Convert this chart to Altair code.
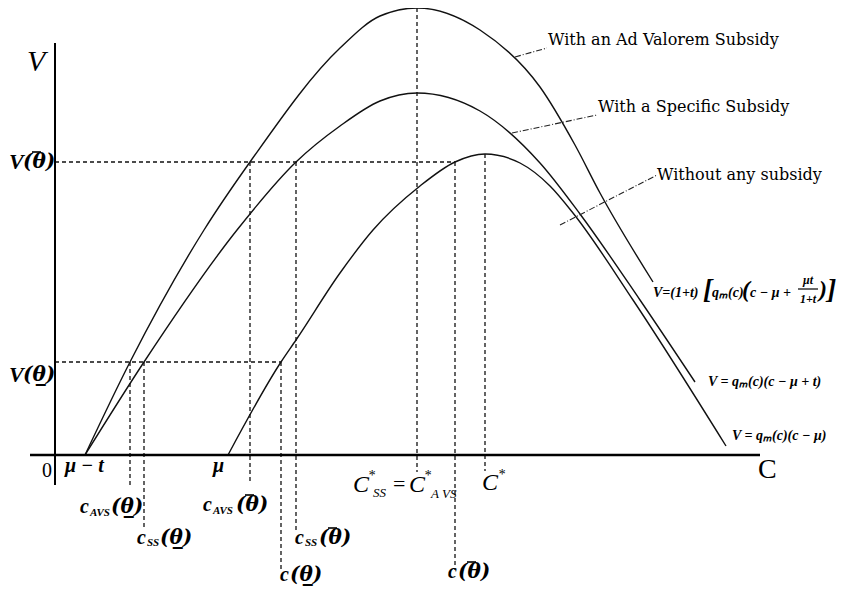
import altair as alt
import pandas as pd

# ---------------- curve data (c, V) ----------------
avs_c = [30, 75, 149, 195, 285, 325, 362, 425, 485, 520, 545, 598]
avs_v = [0, 93, 225, 293, 407, 439, 447, 425, 368, 310, 262, 173]

ss_c = [30, 89, 182, 241, 285, 325, 362, 425, 485, 525, 585, 640]
ss_v = [0, 93, 225, 293, 329, 354, 362, 344, 292, 241, 155, 73]

ns_c = [173, 226, 241, 285, 318, 365, 400, 430, 465, 495, 518, 578, 671]
ns_v = [0, 93, 115, 182, 225, 269, 293, 301, 292, 269, 242, 155, 9]

# key levels / points
V_hi, V_lo = 293, 93
c_avs_lo, c_ss_lo, c_lo = 75, 89, 226
c_avs_hi, c_ss_hi, c_hi = 195, 241, 400
c_star_sub, V_star_sub = 362, 447
c_star, V_star = 430, 301

# lower ends of the drop lines
drop_c = [c_avs_hi, c_ss_hi, c_hi, c_avs_lo, c_ss_lo, c_lo, c_star_sub, c_star]
drop_top = [V_hi, V_hi, V_hi, V_lo, V_lo, V_lo, V_star_sub, V_star]
drop_bot = [-27, -78, -115, -30, -72, -115, -17, -16]

XD = [-47, 783]
YD = [-133, 447]


def X(f="c"):
    return alt.X(f"{f}:Q", scale=alt.Scale(domain=XD, nice=False, zero=False), axis=None)


def Y(f="v"):
    return alt.Y(f"{f}:Q", scale=alt.Scale(domain=YD, nice=False, zero=False), axis=None)


curves = pd.concat([
    pd.DataFrame({"c": avs_c, "v": avs_v, "k": "avs"}),
    pd.DataFrame({"c": ss_c, "v": ss_v, "k": "ss"}),
    pd.DataFrame({"c": ns_c, "v": ns_v, "k": "ns"}),
])

curve_layer = alt.Chart(curves).mark_line(
    interpolate="monotone", color="#111", strokeWidth=1.4
).encode(x=X(), y=Y(), detail="k:N", order="c:Q")

# dashed guides
dash_rows = [
    {"c": 0, "v": V_hi, "c2": c_hi, "v2": V_hi},
    {"c": 0, "v": V_lo, "c2": c_lo, "v2": V_lo},
]
for c, t, b in zip(drop_c, drop_top, drop_bot):
    dash_rows.append({"c": c, "v": t, "c2": c, "v2": b})
dash_df = pd.DataFrame(dash_rows)
dash_layer = alt.Chart(dash_df).mark_rule(
    color="#111", strokeWidth=1.3, strokeDash=[4, 3]
).encode(x=X(), y=Y(), x2="c2:Q", y2="v2:Q")

# axes
axis_df = pd.DataFrame([
    {"c": -25, "v": 0, "c2": 705, "v2": 0, "w": 2.5},
    {"c": 0, "v": -30, "c2": 0, "v2": 412, "w": 2.0},
])
axis_layer = alt.Chart(axis_df).mark_rule(color="#000").encode(
    x=X(), y=Y(), x2="c2:Q", y2="v2:Q", strokeWidth=alt.StrokeWidth("w:Q", scale=None)
)

# annotation leader lines (dash-dot)
lead_df = pd.DataFrame([
    {"c": 460, "v": 398, "c2": 492, "v2": 407},
    {"c": 457, "v": 322, "c2": 542, "v2": 340},
    {"c": 505, "v": 230, "c2": 602, "v2": 280},
])
lead_layer = alt.Chart(lead_df).mark_rule(
    color="#222", strokeWidth=1.1, strokeDash=[6, 2, 1, 2]
).encode(x=X(), y=Y(), x2="c2:Q", y2="v2:Q")

# fraction bar and the bars over theta-bar labels
bar_df = pd.DataFrame([
    {"c": 743, "v": 166, "c2": 763, "v2": 166, "w": 1.2},
    {"c": -23, "v": 303, "c2": -14, "v2": 303, "w": 1.6},
    {"c": 190, "v": -40, "c2": 199, "v2": -40, "w": 1.6},
    {"c": 273, "v": -73, "c2": 282, "v2": -73, "w": 1.6},
    {"c": 412, "v": -107, "c2": 421, "v2": -107, "w": 1.6},
])
bar_layer = alt.Chart(bar_df).mark_rule(color="#000").encode(
    x=X(), y=Y(), x2="c2:Q", y2="v2:Q", strokeWidth=alt.StrokeWidth("w:Q", scale=None)
)

TB = "(\u03b8)"         # theta (bar drawn separately)
TU = "(\u03b8\u0332)"   # (theta underline)

bold_rows = [
    ("V", -46, 293, 22),
    ("V", -46, 80, 22),
    ("\u03bc \u2212 t", 10, -11, 20),
    ("\u03bc", 158, -11, 20),
    ("c", 25, -52, 20), ("AVS", 35, -58, 11),
    ("c", 82, -83, 20), ("SS", 92, -88, 11),
    ("c", 148, -50, 20), ("AVS", 158, -56, 11),
    ("c", 240, -83, 20), ("SS", 250, -88, 11),
    ("c", 225, -120, 20),
    ("c", 393, -117, 20),
    ("V=(1+t)", 598, 162, 14), ("[", 648, 165, 28), ("q\u2098(c)", 657, 162, 14),
    ("(", 687, 165, 24), ("c \u2212 \u03bc +", 695, 162, 14),
    ("\u03bct", 748, 175, 12), ("1+t", 745, 156, 12),
    (")", 764, 165, 24), ("]", 772, 165, 28),
    ("V = q\u2098(c)(c \u2212 \u03bc + t)", 653, 73, 14),
    ("V = q\u2098(c)(c \u2212 \u03bc)", 677, 19, 14),
]
theta_rows = [
    (TB, -32, 293, 20),
    (TU, -32, 80, 20),
    (TU, 56, -52, 20),
    (TU, 105, -83, 20),
    (TB, 181, -50, 20),
    (TB, 264, -83, 20),
    (TU, 235, -120, 20),
    (TB, 403, -117, 20),
]
italic_rows = [
    ("V", -28, 393, 30),
    ("C", 298, -30, 24), ("*", 313, -21, 14), ("SS", 318, -38, 13),
    ("C", 354, -30, 24), ("*", 369, -21, 14), ("A VS", 376, -39, 13),
    ("C", 427, -28, 24), ("*", 443, -20, 14),
]
regular_rows = [
    ("0", -13, -16, 20),
    ("=", 338, -29, 22),
    ("C", 703, -15, 28),
]
note_rows = [
    ("With an Ad Valorem Subsidy", 493, 415, 16),
    ("With a Specific Subsidy", 543, 348, 16),
    ("Without any subsidy", 602, 280, 16),
]


def text_layer(rows, **kw):
    df = pd.DataFrame(rows, columns=["t", "c", "v", "s"])
    return alt.Chart(df).mark_text(align="left", baseline="middle", color="#000", **kw).encode(
        x=X(), y=Y(), text="t:N", size=alt.Size("s:Q", scale=None)
    )


bold_layer = text_layer(bold_rows, font="Liberation Serif", fontWeight="bold", fontStyle="italic")
theta_layer = text_layer(theta_rows, font="DejaVu Serif", fontWeight="bold", fontStyle="italic")
italic_layer = text_layer(italic_rows, font="Liberation Serif", fontStyle="italic")
regular_layer = text_layer(regular_rows, font="Liberation Serif")
note_layer = text_layer(note_rows, font="DejaVu Serif")

chart = alt.layer(
    dash_layer, curve_layer, axis_layer, lead_layer, bar_layer,
    bold_layer, theta_layer, italic_layer, regular_layer, note_layer,
).properties(
    width=830, height=580, padding=0, autosize=alt.AutoSizeParams(type="none")
).configure_view(stroke=None)

chart.save("out.html", embed_options={"renderer": "svg", "actions": False})
